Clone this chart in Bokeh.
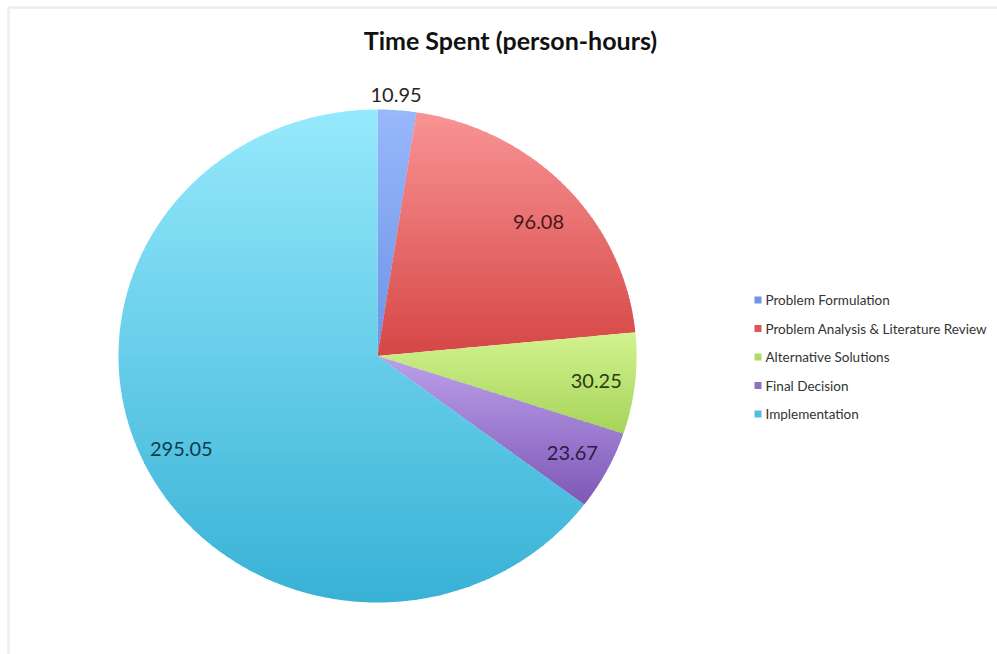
import numpy as np
from bokeh.plotting import figure
from bokeh.models import Range1d, ColumnDataSource, BoxAnnotation
from bokeh.core.properties import value
from bokeh.embed import file_html
from bokeh.resources import INLINE

# ---------------- data ----------------
title_text = "Time Spent (person-hours)"
categories = ["Problem Formulation", "Problem Analysis & Literature Review",
              "Alternative Solutions", "Final Decision", "Implementation"]
values = [10.95, 96.08, 30.25, 23.67, 295.05]

# ---------------- styles ----------------
top_colors = ["#98b8fb", "#f99494", "#d2f290", "#bca0ea", "#96e9fc"]
bottom_colors = ["#6d93e6", "#d64646", "#a6d459", "#7d58b6", "#38b2d6"]
legend_colors = ["#6c97e4", "#dc5656", "#b0da66", "#9070c4", "#52bfdf"]
label_colors = ["#262626", "#4a1717", "#2c3c12", "#2c1c44", "#0f3b4d"]
# label placement as fractions of the radius (x and y)
label_fx = [0.95, 0.856, 0.85, 0.85, 0.846]
label_fy = [1.06, 0.79, 0.89, 0.85, 0.85]

# ---------------- layout (screen px, y down) ----------------
W, H = 997, 654
CX, CY = 377.0, 355.5
RX, RY = 259.0, 246.5
FONT = "Lato"

p = figure(width=W, height=H, x_range=Range1d(0, W), y_range=Range1d(H, 0),
           x_axis_type=None, y_axis_type=None, output_backend="svg",
           toolbar_location=None, min_border=0)
p.grid.visible = False
p.outline_line_color = None
p.background_fill_color = "white"
p.border_fill_color = "white"

# frame border (top + left visible)
p.add_layout(BoxAnnotation(left=8, right=W + 20, top=7, bottom=H + 20,
                           fill_alpha=0, line_color="#c4c4c4", line_width=2.5))


def hex2rgb(h):
    h = h.lstrip("#")
    return np.array([int(h[i:i + 2], 16) for i in (0, 2, 4)], dtype=float)


def rgb2hex(c):
    c = np.clip(np.round(c), 0, 255).astype(int)
    return "#%02x%02x%02x" % tuple(c)


def clip_half(poly, yv, keep_above):
    out = []
    n = len(poly)
    for i in range(n):
        cur = poly[i]
        prv = poly[i - 1]
        cin = cur[1] >= yv if keep_above else cur[1] <= yv
        pin = prv[1] >= yv if keep_above else prv[1] <= yv
        if cin:
            if not pin:
                t = (yv - prv[1]) / (cur[1] - prv[1])
                out.append((prv[0] + t * (cur[0] - prv[0]), yv))
            out.append(cur)
        elif pin:
            t = (yv - prv[1]) / (cur[1] - prv[1])
            out.append((prv[0] + t * (cur[0] - prv[0]), yv))
    return out


total = float(sum(values))
xs, ys, cs = [], [], []
lab_x, lab_y = [], []
start = 0.0
for i, v in enumerate(values):
    a0 = start / total * 2 * np.pi
    a1 = (start + v) / total * 2 * np.pi
    start += v
    n = max(4, int(np.degrees(a1 - a0) * 2))
    th = np.linspace(a0, a1, n)
    poly = [(CX, CY)] + [(CX + RX * np.sin(t), CY - RY * np.cos(t)) for t in th]
    ymin = min(q[1] for q in poly)
    ymax = max(q[1] for q in poly)
    ctop, cbot = hex2rgb(top_colors[i]), hex2rgb(bottom_colors[i])
    nb = 60
    edges = np.linspace(ymin, ymax, nb + 1)
    for b in range(nb):
        y0, y1 = edges[b], edges[b + 1] + (0.9 if b < nb - 1 else 0)
        band = clip_half(poly, y0, True)
        if len(band) < 3:
            continue
        band = clip_half(band, y1, False)
        if len(band) < 3:
            continue
        t = (b + 0.5) / nb
        xs.append([q[0] for q in band])
        ys.append([q[1] for q in band])
        cs.append(rgb2hex(ctop * (1 - t) + cbot * t))
    am = (a0 + a1) / 2
    lab_x.append(CX + label_fx[i] * RX * np.sin(am))
    lab_y.append(CY - label_fy[i] * RY * np.cos(am))

p.patches(xs="xs", ys="ys", fill_color="c", line_color=None,
          source=ColumnDataSource(dict(xs=xs, ys=ys, c=cs)))

# data labels
p.text(x=lab_x, y=lab_y, text=[f"{v:.2f}" for v in values],
       text_color=label_colors, text_font=value(FONT), text_font_size="20px",
       text_align="center", text_baseline="middle")

# title
p.text(x=[510], y=[39], text=[title_text], text_color="#111111",
       text_font=value(FONT), text_font_style="bold", text_font_size="25px",
       text_align="center", text_baseline="middle")

# legend
LEG_X, LEG_Y0, LEG_DY = 757.5, 299.5, 28.5
leg_y = [LEG_Y0 + k * LEG_DY for k in range(len(categories))]
p.rect(x=[LEG_X] * len(categories), y=leg_y, width=7, height=7,
       width_units="screen", height_units="screen",
       fill_color=legend_colors, line_color=None)
p.text(x=[LEG_X + 7.5] * len(categories), y=leg_y, text=categories,
       text_color="#333333", text_font=value(FONT), text_font_size="13.5px",
       text_align="left", text_baseline="middle")

open("out.html", "w").write(file_html(p, INLINE))
